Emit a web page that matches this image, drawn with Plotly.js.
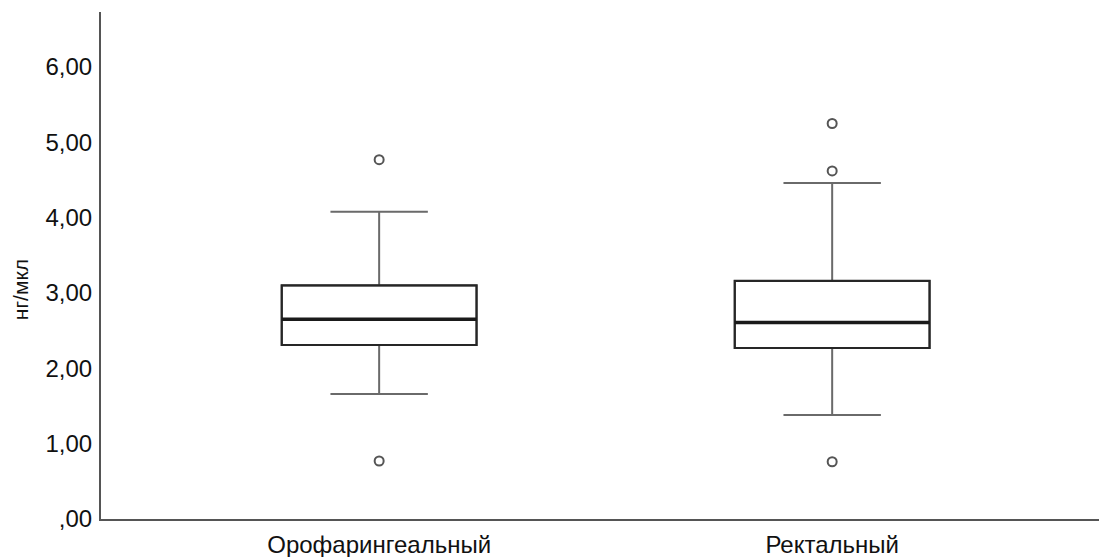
<!DOCTYPE html>
<html>
<head>
<meta charset="utf-8">
<script src="https://cdn.plot.ly/plotly-3.0.1.min.js"></script>
<style>html,body{margin:0;padding:0;background:#fff;overflow:hidden;}#chart{width:1099px;height:557px;}</style>
</head>
<body>
<div id="chart"></div>
<script>
const categories = ['Орофарингеальный', 'Ректальный'];
const q1Values = [2.31, 2.27];
const medianValues = [2.65, 2.61];
const q3Values = [3.10, 3.16];
const lowerWhisker = [1.66, 1.38];
const upperWhisker = [4.08, 4.46];
const outliersOro = [4.77, 0.77];
const outliersRect = [5.25, 4.62, 0.76];
const yTickVals = [0, 1, 2, 3, 4, 5, 6];
const yTickText = [',00', '1,00', '2,00', '3,00', '4,00', '5,00', '6,00'];
const yTitle = 'нг/мкл';

const BOX_W = 0.43;
const pos = categories.map((c, i) => i);
const outX = outliersOro.map(() => pos[0]).concat(outliersRect.map(() => pos[1]));
const outY = outliersOro.concat(outliersRect);

// whiskers (grey)
const whiskerTrace = {
  type: 'box',
  x: pos,
  q1: q1Values,
  median: medianValues,
  q3: q3Values,
  lowerfence: lowerWhisker,
  upperfence: upperWhisker,
  width: BOX_W,
  whiskerwidth: 0.5,
  fillcolor: 'rgba(255,255,255,0)',
  line: {color: '#6a6a6a', width: 2},
  boxpoints: false,
  hoverinfo: 'none'
};
// box body (dark)
const boxTrace = {
  type: 'box',
  x: pos,
  q1: q1Values,
  median: medianValues,
  q3: q3Values,
  lowerfence: q1Values,
  upperfence: q3Values,
  width: BOX_W,
  whiskerwidth: 0,
  fillcolor: 'rgba(255,255,255,0)',
  line: {color: '#262626', width: 2.2},
  boxpoints: false,
  hoverinfo: 'none'
};
// thicker median lines
const medX = [], medY = [];
pos.forEach((p, i) => {
  medX.push(p - BOX_W / 2, p + BOX_W / 2, null);
  medY.push(medianValues[i], medianValues[i], null);
});
const medianTrace = {
  type: 'scatter', mode: 'lines',
  x: medX, y: medY,
  line: {color: '#1a1a1a', width: 3.5},
  hoverinfo: 'none'
};

const outlierTrace = {
  type: 'scatter',
  mode: 'markers',
  x: outX,
  y: outY,
  marker: {symbol: 'circle-open', size: 9, color: '#555', line: {width: 2, color: '#555'}},
  hoverinfo: 'none'
};

const layout = {
  width: 1099,
  height: 557,
  margin: {l: 101, r: 0, t: 12, b: 38},
  paper_bgcolor: '#fff',
  plot_bgcolor: '#fff',
  showlegend: false,
  font: {family: 'Liberation Sans, Arial, sans-serif', color: '#111'},
  xaxis: {
    range: [-0.614, 1.589],
    tickvals: pos,
    ticktext: categories,
    showline: true,
    linecolor: '#555',
    linewidth: 2,
    showgrid: false,
    zeroline: false,
    ticks: '',
    tickfont: {size: 24, color: '#111'},
    ticklabelstandoff: 3
  },
  yaxis: {
    range: [0, 6.73],
    showline: true,
    linecolor: '#555',
    linewidth: 2,
    showgrid: false,
    zeroline: false,
    ticks: '',
    tickvals: yTickVals,
    ticktext: yTickText,
    tickfont: {size: 24, color: '#111'},
    ticklabelstandoff: 2
  },
  annotations: [{
    text: yTitle,
    xref: 'paper', yref: 'y',
    x: -0.080, y: 3.04,
    xanchor: 'center', yanchor: 'middle',
    textangle: -90,
    showarrow: false,
    font: {size: 21, color: '#111'}
  }]
};

Plotly.newPlot('chart', [whiskerTrace, boxTrace, medianTrace, outlierTrace], layout, {staticPlot: true, displayModeBar: false});
</script>
</body>
</html>
